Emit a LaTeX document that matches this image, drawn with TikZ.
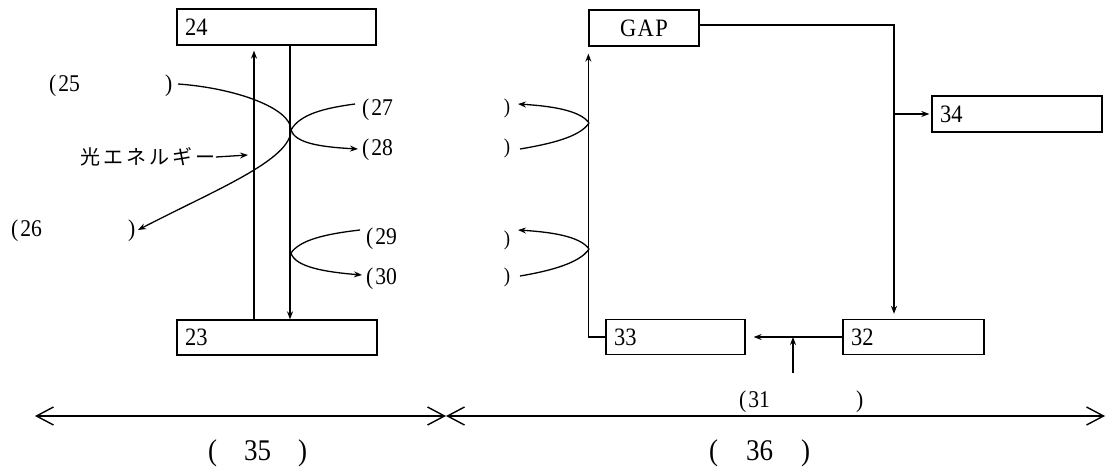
\documentclass[tikz,border=0pt]{standalone}
\usepackage{fontspec}
\setmainfont{Liberation Serif}[FakeStretch=0.9]
\newfontfamily\jp{Noto Sans CJK JP}[LetterSpace=15]
\usetikzlibrary{arrows.meta}
\begin{document}
\begin{tikzpicture}[x=1pt,y=-1pt,
  box/.style={draw,line width=1.3pt,inner xsep=8pt,inner ysep=0pt,align=left,
    font=\fontsize{25}{28}\selectfont},
  lab/.style={inner sep=0pt,anchor=base west,font=\fontsize{24}{27}\selectfont},
  par/.style={inner sep=0pt,anchor=center,font=\fontsize{21}{24}\selectfont},
  big/.style={inner sep=0pt,anchor=base west,font=\fontsize{30}{34}\selectfont},
  ln/.style={line width=1.3pt},
  arr/.style={line width=1.3pt,-{Stealth[length=8pt,width=6pt]}},
  dbl/.style={line width=1.4pt,{Straight Barb[length=17pt,width=18pt]}-{Straight Barb[length=17pt,width=18pt]}}]
\useasboundingbox (0,0) rectangle (1108,470);

% boxes
\node[box,text width=183pt,minimum height=36pt] (b24) at (276.5,27) {24};
\node[box,text width=184pt,minimum height=35pt] (b23) at (277,337.5) {23};
\node[box,text width=94pt,minimum height=36pt,align=center] (gap) at (644,28) {G\kern1.5pt A\kern1.5pt P};
\node[box,text width=154pt,minimum height=36pt] (b34) at (1017,114) {34};
\node[box,text width=125pt,minimum height=35pt] (b32) at (913.5,337) {32};
\node[box,text width=123pt,minimum height=35pt] (b33) at (675.5,337) {33};

% helper coordinates
\coordinate (upx) at (254,0);
\coordinate (dnx) at (290,0);
\coordinate (rx) at (894,0);
\coordinate (c31) at (793,373);
\coordinate (v1) at (291,130);
\coordinate (v2) at (291,253);
\coordinate (v3) at (589,123);
\coordinate (v4) at (589,249);
\coordinate (e25) at (178,84);
\coordinate (e26) at (138,230);
\coordinate (e27) at (355,104);
\coordinate (e28) at (358,149);
\coordinate (e29) at (360,230);
\coordinate (e30) at (362,275);
\coordinate (r1) at (518,104);
\coordinate (r2) at (520,149);
\coordinate (r3) at (518,230);
\coordinate (r4) at (520,276);
\coordinate (hx) at (248,155);
\coordinate (L1) at (35,416);
\coordinate (M) at (446,416);
\coordinate (R) at (1105,416);

% labels
\node[lab] (l25) at (49,92) {(\kern2pt 25};
\node[lab] (l25r) at (165,92) {)};
\node[lab] (l26) at (11,237) {(\kern2pt 26};
\node[lab] (l26r) at (128,237) {)};
\node[lab] (l27) at (362,116) {(\kern2pt 27};
\node[lab] (l28) at (362,156) {(\kern2pt 28};
\node[lab] (l29) at (366,245) {(\kern2pt 29};
\node[lab] (l30) at (366,285) {(\kern2pt 30};
\node[lab] (l31) at (739,407) {(\kern2pt 31};
\node[lab] (l31r) at (856,407) {)};
\node[par] (p1) at (507,108) {)};
\node[par] (p2) at (507,148) {)};
\node[par] (p3) at (507,240) {)};
\node[par] (p4) at (507,277) {)};
\node[inner sep=0pt,anchor=east,font=\jp\fontsize{20}{23}\selectfont] (hk) at (216,157) {光エネルギー};
\node[big] (l35) at (208,460) {(\hspace{27pt}35\hspace{27pt})};
\node[big] (l36) at (709,460) {(\hspace{28pt}36\hspace{28pt})};

% left cycle
\draw[arr,shorten >=5pt] (b23.north -| upx) -- (b24.south -| upx);
\draw[arr] (b24.south -| dnx) -- (b23.north -| dnx);
\draw[arr] (hk.east) -- (hx);
\draw[arr] (e25) .. controls (235,88) and (291,108) .. (v1)
   .. controls (291,160) and (215,190) .. (e26);
\draw[ln] (v1) .. controls (300,114) and (325,108) .. (e27);
\draw[arr] (v1) .. controls (295,143) and (320,147) .. (e28);
\draw[ln] (v2) .. controls (300,240) and (325,234) .. (e29);
\draw[arr] (v2) .. controls (295,267) and (325,272) .. (e30);

% right cycle
\draw[arr,shorten >=5pt] ([yshift=3pt]gap.east) -| (b32.north -| rx);
\draw[arr,shorten >=2pt] (rx |- b34.west) -- (b34.west);
\draw[arr,shorten >=8pt] (b32.west) -- (b33.east);
\draw[arr] (c31) -- (c31 |- b32.west);
\draw[arr,shorten >=7pt] (b33.west) -| (gap.south west);
\draw[arr] (v3) .. controls (580,110) and (550,106) .. (r1);
\draw[ln] (v3) .. controls (580,137) and (550,144) .. (r2);
\draw[arr] (v4) .. controls (580,236) and (550,232) .. (r3);
\draw[ln] (v4) .. controls (580,263) and (550,271) .. (r4);

% bottom ranges
\draw[dbl] (L1) -- (M);
\draw[dbl] (M) -- (R);
\end{tikzpicture}
\end{document}
